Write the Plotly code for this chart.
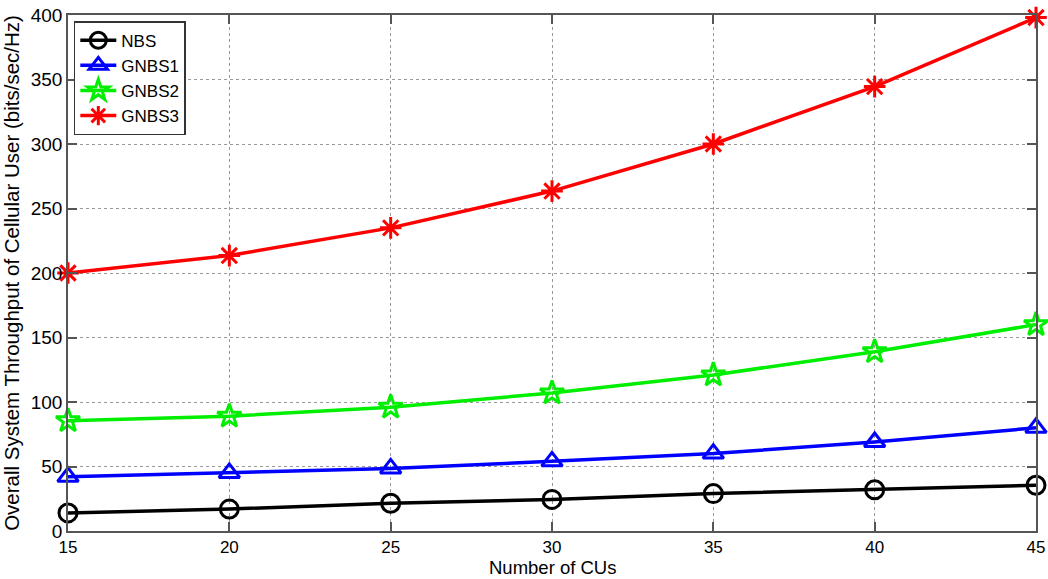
import plotly.graph_objects as go

num_cus = [15, 20, 25, 30, 35, 40, 45]
nbs = [14, 17, 21.5, 24.5, 29, 32, 35.5]
gnbs1 = [42, 45, 48.5, 54, 60, 69, 80]
gnbs2 = [85.5, 89, 96, 107, 121, 139, 160]
gnbs3 = [200, 213.5, 235, 263.5, 300, 344.5, 398]

series = [
    ("NBS", nbs, "black", "circle-open"),
    ("GNBS1", gnbs1, "blue", "triangle-up-open"),
    ("GNBS2", gnbs2, "#00ee00", "star-open"),
    ("GNBS3", gnbs3, "red", "asterisk-open"),
]

fig = go.Figure()
for name, vals, color, sym in series:
    fig.add_trace(go.Scatter(
        x=num_cus, y=vals, name=name, mode="lines+markers",
        line=dict(color=color, width=3.5),
        marker=dict(symbol=sym, size=18, color=color, line=dict(color=color, width=3)),
        cliponaxis=False,
    ))

axis_common = dict(
    showline=True, linecolor="#555", linewidth=1.5, mirror="allticks",
    ticks="inside", ticklen=9, tickcolor="#555", tickwidth=1.5,
    showgrid=True, gridcolor="#999", griddash="dot", gridwidth=1,
    zeroline=False, automargin=False,
    tickfont=dict(family="Liberation Sans, Arial", size=19, color="black"),
)

fig.update_layout(
    width=1048, height=579,
    margin=dict(l=68, r=12, t=15, b=48),
    paper_bgcolor="white", plot_bgcolor="white",
    font=dict(family="Liberation Sans, Arial", color="black"),
    xaxis=dict(range=[15, 45], tickvals=num_cus, **axis_common),
    yaxis=dict(range=[0, 400], tickvals=list(range(0, 401, 50)),
               title=dict(text="Overall System Throughput of Cellular User (bits/sec/Hz)", font=dict(size=20.5), standoff=6),
               **axis_common),
    legend=dict(x=0.006, y=0.988, xanchor="left", yanchor="top",
                bgcolor="white", bordercolor="#333", borderwidth=1.5,
                font=dict(size=17), itemwidth=36, tracegroupgap=0),
    showlegend=True,
    annotations=[dict(text="Number of CUs", xref="paper", yref="paper", x=0.5, y=0,
                      xanchor="center", yanchor="bottom", yshift=-48, showarrow=False,
                      borderpad=0, font=dict(size=18.5))],
)
fig.update_xaxes(tickfont=dict(size=17))

fig.write_html("out.html")
